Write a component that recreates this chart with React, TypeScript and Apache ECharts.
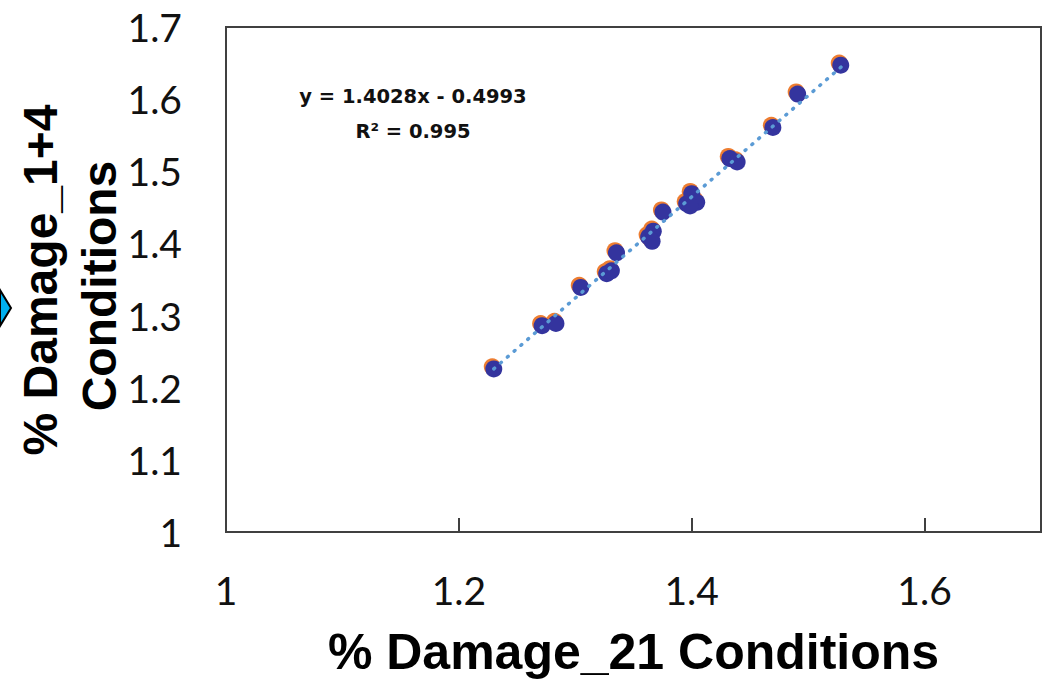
import React, { useEffect, useRef } from "react";
import * as echarts from "echarts";

const blueData: [number, number][] = [
  [1.230, 1.226], [1.2715, 1.286], [1.2834, 1.289], [1.3047, 1.339],
  [1.327, 1.358], [1.331, 1.362], [1.3354, 1.387], [1.363, 1.409],
  [1.367, 1.417], [1.366, 1.403], [1.3753, 1.4435], [1.3957, 1.455],
  [1.400, 1.469], [1.4043, 1.457], [1.3986, 1.452], [1.4327, 1.5176],
  [1.439, 1.513], [1.4697, 1.5607], [1.491, 1.607], [1.528, 1.647],
];

const orangeData: [number, number][] = [
  [1.2287, 1.229], [1.2702, 1.289], [1.2821, 1.292], [1.3034, 1.342],
  [1.3257, 1.361], [1.3297, 1.365], [1.3341, 1.390], [1.3617, 1.412],
  [1.3657, 1.420], [1.3647, 1.406], [1.374, 1.4465], [1.3944, 1.458],
  [1.3987, 1.472], [1.403, 1.460], [1.3973, 1.455], [1.4314, 1.5206],
  [1.4377, 1.516], [1.4684, 1.5637], [1.4897, 1.610], [1.5267, 1.650],
];

const slope = 1.4028;
const intercept = -0.4993;
const trendX = [1.23, 1.53];
const equationText = "y = 1.4028x - 0.4993";
const r2Text = "R² = 0.995";
const xTitle = "% Damage_21 Conditions";
const yTitleLine1 = "% Damage_1+4";
const yTitleLine2 = "Conditions";

export default function App() {
  const ref = useRef<HTMLDivElement>(null);
  useEffect(() => {
    document.body.style.margin = "0";
    const chart = echarts.init(ref.current!, null, { renderer: "svg" });
    const trend = trendX.map((x) => [x, slope * x + intercept]);
    const titleFont = "bold 48px 'Liberation Sans'";
    chart.setOption({
      animation: false,
      backgroundColor: "#ffffff",
      grid: {
        left: 226, top: 27, right: 2, bottom: 149,
        outerBoundsMode: "none", containLabel: false,
        show: true, borderColor: "#404040", borderWidth: 2,
      },
      xAxis: {
        type: "value", min: 1, max: 1.7, interval: 0.2,
        splitLine: { show: false },
        axisLine: { show: true, lineStyle: { color: "#404040", width: 2 } },
        axisTick: { show: true, inside: true, length: 14, lineStyle: { color: "#404040", width: 2 } },
        axisLabel: {
          showMaxLabel: false, margin: 38, fontSize: 39, color: "#111",
          fontFamily: "Lato", formatter: (v: number) => String(Math.round(v * 10) / 10),
        },
        name: xTitle, nameLocation: "middle", nameGap: 95,
        nameTextStyle: { fontSize: 50, fontWeight: "bold", fontFamily: "Liberation Sans", color: "#000" },
      },
      yAxis: {
        type: "value", min: 1, max: 1.7, interval: 0.1,
        splitLine: { show: false },
        axisLine: { show: true, lineStyle: { color: "#404040", width: 2 } },
        axisTick: { show: false },
        axisLabel: {
          margin: 44, fontSize: 39, color: "#111", fontFamily: "Lato",
          formatter: (v: number) => String(Math.round(v * 10) / 10),
        },
      },
      series: [
        {
          type: "scatter", data: orangeData, symbolSize: 17,
          itemStyle: { color: "#ED7D31", opacity: 1 }, z: 2,
        },
        {
          type: "scatter", data: blueData, symbolSize: 17,
          itemStyle: { color: "#34349E", opacity: 1 }, z: 3,
        },
        {
          type: "line", data: trend, showSymbol: false, symbol: "none", z: 4,
          lineStyle: { color: "#5B9BD5", width: 3.5, type: [1, 8], cap: "round" },
        },
      ],
      graphic: [
        {
          type: "text", x: 40, y: 280, rotation: Math.PI / 2,
          style: { text: yTitleLine1, font: titleFont, fill: "#000", textAlign: "center", textVerticalAlign: "middle" },
        },
        {
          type: "text", x: 99, y: 286, rotation: Math.PI / 2,
          style: { text: yTitleLine2, font: titleFont, fill: "#000", textAlign: "center", textVerticalAlign: "middle" },
        },
        {
          type: "text", x: 413, y: 96,
          style: { text: equationText, font: "bold 19.5px 'DejaVu Sans'", fill: "#111", textAlign: "center", textVerticalAlign: "middle" },
        },
        {
          type: "text", x: 413, y: 131,
          style: { text: r2Text, font: "bold 19.5px 'DejaVu Sans'", fill: "#111", textAlign: "center", textVerticalAlign: "middle" },
        },
        {
          type: "polygon",
          shape: { points: [[0, 290], [11, 308], [0, 326]] },
          style: { fill: "#00B0F0", stroke: "#000", lineWidth: 2 },
        },
      ],
    });
    return () => chart.dispose();
  }, []);
  return <div ref={ref} style={{ width: 1043, height: 681 }} />;
}
